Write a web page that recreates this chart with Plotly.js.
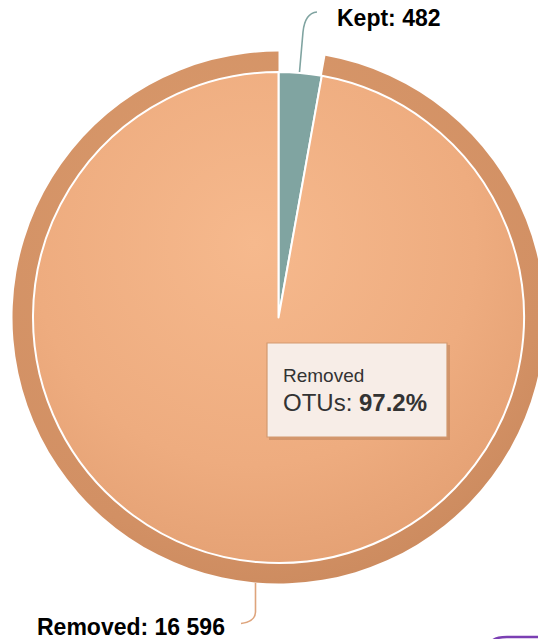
<!DOCTYPE html>
<html>
<head>
<meta charset="utf-8">
<script src="https://cdn.plot.ly/plotly-3.0.1.min.js"></script>
<style>
  html, body { margin: 0; padding: 0; overflow: hidden; background: #ffffff; }
  #chart { width: 560px; height: 639px; }
</style>
</head>
<body>
<div id="chart"></div>
<script>
// OTU filtering result: how many OTUs were kept and how many removed
const categories = ['Kept', 'Removed'];
const otuCounts = [482, 16596];
const sliceColors = ['#80a4a1', '#eeac7f'];
const haloColors = ['rgba(0,0,0,0)', '#d29064'];
const hoveredIndex = 1;          // the slice shown with its halo and tooltip
const tooltipSeriesName = 'OTUs';

// figure geometry (pixels)
const W = 560, H = 639;
const cx = 278.5, cy = 317.5, pieR = 245.5, haloR = 266;

const px = x => x / W;
const py = y => 1 - y / H;

const fmtThousands = n => String(n).replace(/\B(?=(\d{3})+(?!\d))/g, ' ');
const total = otuCounts.reduce((a, b) => a + b, 0);
const hoveredPct = (otuCounts[hoveredIndex] / total * 100).toFixed(1) + '%';

// halo ring behind the hovered slice
const haloTrace = {
  type: 'pie',
  labels: categories,
  values: otuCounts,
  sort: false,
  direction: 'clockwise',
  rotation: 0,
  hole: pieR / haloR,
  domain: { x: [px(cx - haloR), px(cx + haloR)], y: [py(cy + haloR), py(cy - haloR)] },
  marker: { colors: haloColors, line: { width: 0 } },
  textinfo: 'none',
  hoverinfo: 'skip',
  showlegend: false
};

// the pie itself
const pieTrace = {
  type: 'pie',
  labels: categories,
  values: otuCounts,
  sort: false,
  direction: 'clockwise',
  rotation: 0,
  domain: { x: [px(cx - pieR), px(cx + pieR)], y: [py(cy + pieR), py(cy - pieR)] },
  marker: { colors: sliceColors, line: { color: '#ffffff', width: 2 } },
  textinfo: 'none',
  hoverinfo: 'skip',
  showlegend: false
};

const labelFont = { family: 'Liberation Sans, Arial, sans-serif', size: 23, color: '#000000' };

// path helper in pixel coordinates -> paper fractions
function pathPx(cmds) {
  return cmds.map(c => {
    if (typeof c === 'string') return c;
    return px(c[0]).toFixed(5) + ',' + py(c[1]).toFixed(5);
  }).join(' ');
}

const shapes = [
  // connector for "Kept"
  { type: 'path', xref: 'paper', yref: 'paper', layer: 'above',
    path: pathPx(['M', [299.5, 72], 'L', [303, 32], 'Q', [305, 13], [317, 12]]),
    line: { color: '#80a4a1', width: 1.6 } },
  // connector for "Removed"
  { type: 'path', xref: 'paper', yref: 'paper', layer: 'above',
    path: pathPx(['M', [255.5, 583], 'L', [255.5, 612], 'Q', [255, 622], [241, 623.5]]),
    line: { color: '#dea47c', width: 1.6 } },
  // tooltip shadow
  { type: 'rect', xref: 'paper', yref: 'paper', layer: 'above',
    x0: px(269), x1: px(450), y0: py(440), y1: py(345),
    fillcolor: 'rgba(90,50,20,0.18)', line: { width: 0 } },
  // tooltip box
  { type: 'rect', xref: 'paper', yref: 'paper', layer: 'above',
    x0: px(267), x1: px(447), y0: py(437), y1: py(343),
    fillcolor: 'rgba(248,240,235,0.97)', line: { color: '#d39a70', width: 1.2 } },
  // purple edge of a neighbouring element
  { type: 'path', xref: 'paper', yref: 'paper', layer: 'above',
    path: pathPx(['M', [492, 641], 'Q', [496, 637], [507, 637], 'L', [545, 637]]),
    line: { color: '#7b3fb3', width: 2.5 } }
];

const annotations = [
  { xref: 'paper', yref: 'paper', x: px(335), y: py(18), xanchor: 'left', yanchor: 'middle',
    showarrow: false, text: '<b>' + categories[0] + ': ' + fmtThousands(otuCounts[0]) + '</b>', font: labelFont },
  { xref: 'paper', yref: 'paper', x: px(35), y: py(627), xanchor: 'left', yanchor: 'middle',
    showarrow: false, text: '<b>' + categories[1] + ': ' + fmtThousands(otuCounts[1]) + '</b>', font: labelFont },
  { xref: 'paper', yref: 'paper', x: px(281), y: py(375.5), xanchor: 'left', yanchor: 'middle',
    showarrow: false, text: categories[hoveredIndex],
    font: { family: 'Liberation Sans, Arial, sans-serif', size: 19, color: '#333333' } },
  { xref: 'paper', yref: 'paper', x: px(281), y: py(402.5), xanchor: 'left', yanchor: 'middle',
    showarrow: false, text: tooltipSeriesName + ': <b>' + hoveredPct + '</b>',
    font: { family: 'Liberation Sans, Arial, sans-serif', size: 24, color: '#333333' } }
];

const layout = {
  width: W, height: H,
  margin: { l: 0, r: 0, t: 0, b: 0 },
  paper_bgcolor: '#ffffff',
  showlegend: false,
  shapes: shapes,
  annotations: annotations
};

Plotly.newPlot('chart', [haloTrace, pieTrace], layout, { staticPlot: true, displayModeBar: false })
  .then(gd => {
    // soft radial shading on the hovered slice and its halo
    const ns = 'http://www.w3.org/2000/svg';
    const svg = gd.querySelector('.main-svg');
    let defs = svg.querySelector('defs');
    if (!defs) { defs = document.createElementNS(ns, 'defs'); svg.insertBefore(defs, svg.firstChild); }
    function addGrad(id, gx, gy, r, stops) {
      const g = document.createElementNS(ns, 'radialGradient');
      g.setAttribute('id', id);
      g.setAttribute('cx', gx); g.setAttribute('cy', gy); g.setAttribute('r', r);
      stops.forEach(([o, c]) => {
        const s = document.createElementNS(ns, 'stop');
        s.setAttribute('offset', o); s.setAttribute('stop-color', c);
        g.appendChild(s);
      });
      defs.appendChild(g);
    }
    addGrad('sliceShade', 0.45, 0.35, 0.75, [[0, '#f6b98d'], [0.6, '#eeac7f'], [1, '#e19d70']]);
    addGrad('haloShade', 0.42, 0.32, 0.8, [[0, '#d99a6c'], [0.75, '#d29064'], [1, '#c7875b']]);
    const traces = gd.querySelectorAll('.pielayer .trace');
    const haloPath = traces[0].querySelectorAll('path.surface')[hoveredIndex];
    const slicePath = traces[1].querySelectorAll('path.surface')[hoveredIndex];
    if (haloPath) haloPath.style.fill = 'url(#haloShade)';
    if (slicePath) slicePath.style.fill = 'url(#sliceShade)';
  });
</script>
</body>
</html>
